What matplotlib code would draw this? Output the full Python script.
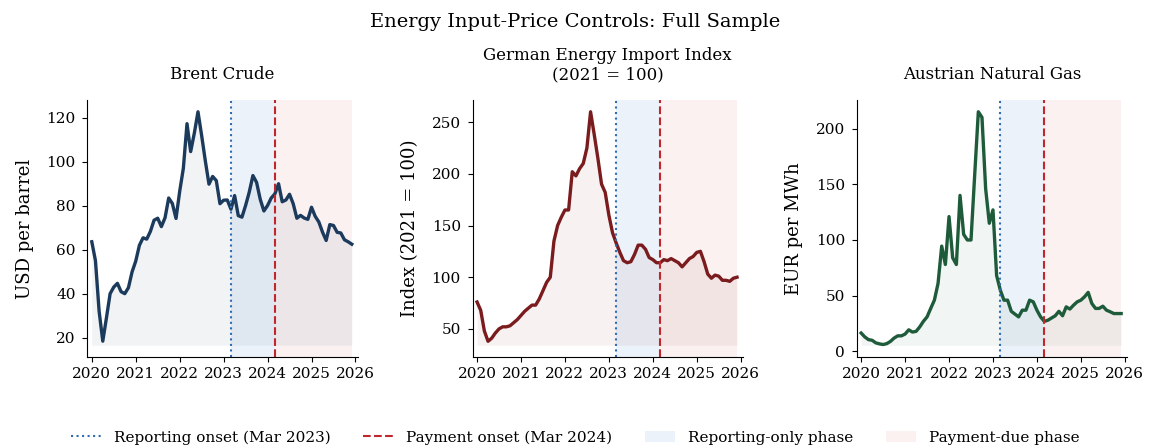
import numpy as np
import matplotlib.pyplot as plt
from matplotlib.lines import Line2D
from matplotlib.patches import Patch

plt.rcParams['font.family'] = 'DejaVu Serif'

# monthly, Jan 2020 - Dec 2025
months = 2020 + np.arange(72) / 12

brent = [63.6, 55.0, 32.0, 18.4, 29.0, 40.0, 43.0, 44.7, 40.9, 40.0, 42.7, 49.9,
         54.8, 62.0, 65.4, 64.8, 68.3, 73.4, 74.3, 70.5, 74.5, 83.5, 81.0, 74.2,
         86.5, 97.0, 117.3, 104.6, 113.0, 122.7, 111.9, 100.4, 89.8, 93.3, 91.4, 80.9,
         82.5, 82.6, 78.4, 84.6, 75.5, 74.8, 80.1, 86.2, 93.7, 90.6, 82.9, 77.6,
         80.1, 83.5, 85.4, 90.0, 81.8, 82.6, 85.2, 80.9, 74.3, 75.6, 74.4, 73.8,
         79.3, 75.2, 72.6, 68.0, 64.2, 71.4, 71.0, 67.9, 67.6, 64.5, 63.6, 62.5]

german = [76, 68, 48, 38, 41, 46, 50, 52, 52, 53, 56, 59,
          63, 67, 70, 73, 73, 79, 87, 95, 100, 135, 150, 158,
          165, 165, 202, 198, 205, 210, 225, 260, 238, 215, 190, 182,
          160, 143, 133, 124, 116, 114, 115, 122, 131, 131, 127, 119,
          117, 114, 114, 117, 116, 118, 116, 114, 110, 114, 118, 120,
          124, 125, 115, 103, 99, 102, 101, 97, 97, 96, 99, 100]

gas = [16.5, 13, 10.6, 10, 7.7, 6.8, 6.2, 7, 9, 12, 14, 14,
       15.6, 19.4, 17.4, 18, 22, 27, 31, 38.6, 46, 61, 94.5, 78,
       121, 84, 78, 140, 105, 100, 100, 158, 215, 210, 146, 115,
       127, 68, 55, 46, 46, 36, 33.5, 31, 37, 37, 46, 44.5,
       37, 31, 27, 28, 30, 32, 36, 32, 40, 38, 41.5, 44.5,
       46, 49, 53, 43, 38.6, 38.6, 40.6, 37, 35.6, 34, 34, 34]

titles = ['Brent Crude', 'German Energy Import Index\n(2021 = 100)', 'Austrian Natural Gas']
ylabels = ['USD per barrel', 'Index (2021 = 100)', 'EUR per MWh']
colors = ['#1b3a5c', '#7a1b1e', '#1e5b3a']
series = [brent, german, gas]

report_onset = 2023 + 2 / 12
payment_onset = 2024 + 2 / 12
blue_span = '#c9daf2'
red_span = '#f5dcdc'

fig = plt.figure(figsize=(11.5, 4.45), dpi=100)
lefts = [0.076, 0.411, 0.745]
for i in range(3):
    ax = fig.add_axes([lefts[i], 0.198, 0.235, 0.577])
    y = np.array(series[i], dtype=float)
    ax.axvspan(report_onset, payment_onset, color=blue_span, alpha=0.35, lw=0)
    ax.axvspan(payment_onset, months[-1], color=red_span, alpha=0.4, lw=0)
    ax.fill_between(months, y, y.min() * 0.9, color=colors[i], alpha=0.06, lw=0)
    ax.plot(months, y, color=colors[i], lw=2.4)
    ax.axvline(report_onset, color='#2e6db4', ls=':', lw=1.5)
    ax.axvline(payment_onset, color='#c0272d', ls='--', lw=1.5)
    ax.set_xlim(2019.9, 2026.05)
    ax.set_xticks(range(2020, 2027))
    ax.set_title(titles[i], fontsize=12, pad=15)
    ax.set_ylabel(ylabels[i], fontsize=13, labelpad=9)
    ax.tick_params(labelsize=11)
    ax.tick_params(axis='y', pad=5)
    ax.spines['top'].set_visible(False)
    ax.spines['right'].set_visible(False)

fig.suptitle('Energy Input-Price Controls: Full Sample', fontsize=14, y=0.97)

handles = [Line2D([], [], color='#2e6db4', ls=':', lw=1.5),
           Line2D([], [], color='#c0272d', ls='--', lw=1.5),
           Patch(facecolor=blue_span, alpha=0.35),
           Patch(facecolor=red_span, alpha=0.4)]
labels = ['Reporting onset (Mar 2023)', 'Payment onset (Mar 2024)',
          'Reporting-only phase', 'Payment-due phase']
fig.legend(handles, labels, loc='lower center', bbox_to_anchor=(0.5, -0.03),
           ncol=4, frameon=False, fontsize=11, columnspacing=2.15)

fig.savefig('out.png')
